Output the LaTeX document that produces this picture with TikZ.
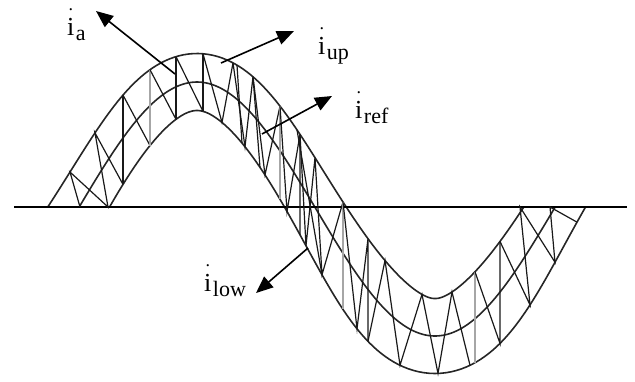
\documentclass[tikz,border=0pt]{standalone}
\usepackage{fontspec}
\setmainfont{Liberation Serif}
\usetikzlibrary{arrows.meta}

\newcommand\Amp{127}
\newcommand\Per{476}
\newcommand\Xo{78}
\newcommand\Yo{209}

\newcommand\iterU[1]{\pgfmathsetmacro\tqq{#1+dd(\tqq)*gg(\tqq)/ss(\tqq)}}
\newcommand\iterL[1]{\pgfmathsetmacro\tqq{#1-dd(\tqq)*gg(\tqq)/ss(\tqq)}}
\newcommand\onU[2]{%
  \pgfmathsetmacro\tqq{#1}%
  \iterU{#1}\iterU{#1}\iterU{#1}\iterU{#1}\iterU{#1}%
  \iterU{#1}\iterU{#1}\iterU{#1}\iterU{#1}\iterU{#1}%
  \pgfmathsetmacro\yqq{uy(\tqq)}%
  \coordinate (U#1) at (#1,\yqq);}
\newcommand\onL[2]{%
  \pgfmathsetmacro\tqq{#1}%
  \iterL{#1}\iterL{#1}\iterL{#1}\iterL{#1}\iterL{#1}%
  \iterL{#1}\iterL{#1}\iterL{#1}\iterL{#1}\iterL{#1}%
  \pgfmathsetmacro\yqq{ly(\tqq)}%
  \coordinate (L#1) at (#1,\yqq);}

\newcommand\di{\rlap{\hbox to 0.278em{\hss\raisebox{0.95em}{\fontsize{18}{18}\selectfont.}\hss}}i\kern1.5pt}
\newcommand\sub[1]{\raisebox{-5pt}{\fontsize{22}{26}\selectfont #1}}

\begin{document}
\begin{tikzpicture}[x=1pt,y=-1pt,
  declare function={
    ph(\x)=(\x-\Xo)/\Per*360;
    ff(\x)=\Amp*sin(ph(\x));
    gg(\x)=\Amp*2*pi/\Per*cos(ph(\x));
    ss(\x)=sqrt(1+gg(\x)*gg(\x));
    dd(\x)=26.5-4.5*sin(ph(\x))+6.5*sin(ph(\x))*sin(ph(\x));
    ux(\x)=\x-dd(\x)*gg(\x)/ss(\x);
    uy(\x)=\Yo-ff(\x)-dd(\x)/ss(\x);
    lx(\x)=\x+dd(\x)*gg(\x)/ss(\x);
    ly(\x)=\Yo-ff(\x)+dd(\x)/ss(\x);
  },
  curve/.style={line width=1.6pt, black!85},
  net/.style={line width=1.2pt, black!90},
  greynet/.style={line width=2.3pt, black!35},
  axisline/.style={line width=2pt},
  arr/.style={line width=1.6pt, -{Triangle[length=17pt,width=14pt]}},
  lab/.style={inner sep=0pt, anchor=base west, font=\fontsize{26}{30}\selectfont}]
\useasboundingbox (0,0) rectangle (635,381);

% band curves
\begin{scope}
\clip (0,0) -- (400,0) -- (400,207) -- (640,207) -- (640,400) -- (200,400) -- (200,207) -- (0,207) -- cycle;
\draw[curve] plot[variable=\x, domain=20:620, samples=200] ({ux(\x)},{uy(\x)});
\draw[curve] plot[variable=\x, domain=40:620, samples=200] ({\x},{\Yo-ff(\x)});
\draw[curve] plot[variable=\x, domain=40:640, samples=200] ({lx(\x)},{ly(\x)});
\end{scope}

% axis
\coordinate (ax0) at (14,207);
\coordinate (ax1) at (627,207);
\draw[axisline] (ax0) -- (ax1);

% vertices
\coordinate (A80) at (80,207);
\coordinate (A108) at (108,207);
\coordinate (A520) at (520,207);
\coordinate (A550) at (550,207);
\onU{70}{}\onU{95}{}\onU{123}{}\onU{150}{}\onU{176}{}\onU{203}{}
\onU{233}{}\onU{237}{}\onU{253}{}\onU{280}{}\onU{297}{}\onU{300}{}\onU{315}{}\onU{343}{}
\onU{368}{}\onU{385}{}\onU{422}{}\onU{452}{}\onU{475}{}\onU{500}{}
\onL{123}{}\onL{150}{}\onL{176}{}\onL{203}{}\onL{222}{}\onL{242}{}\onL{245}{}
\onL{260}{}\onL{265}{}\onL{280}{}\onL{287}{}\onL{300}{}\onL{306}{}
\onL{322}{}\onL{343}{}\onL{357}{}\onL{368}{}\onL{400}{}\onL{438}{}
\onL{470}{}\onL{475}{}\onL{500}{}\onL{530}{}\onL{555}{}\onL{577}{}

% switching net
\draw[net] (A80) -- (U70) -- (A108) -- (U95) -- (L123);
\draw[net] (U123) -- (L123);
\draw[net] (U123) -- (L150);
\draw[greynet] (U150) -- (L150);
\draw[net] (U150) -- (L176);
\draw[net] (U176) -- (L176);
\draw[net] (U176) -- (L203);
\draw[net] (U203) -- (L203);
\draw[net] (U203) -- (L222) -- (U233);
\draw[net] (U237) -- (L242);
\draw[net] (U233) -- (L245) -- (U253) -- (L260);
\draw[net] (U253) -- (L265) -- (U280);
\draw[greynet] (U280) -- (L280);
\draw[net] (U280) -- (L287) -- (U300) -- (L300);
\draw[net] (U297) -- (L322);
\draw[net] (U300) -- (L306) -- (U315) -- (L322) -- (U343);
\draw[greynet] (U343) -- (L343);
\draw[net] (U343) -- (L357) -- (U368) -- (L368);
\draw[net] (L368) -- (U385) -- (L400) -- (U422) -- (L438) -- (U452) -- (L470);
\draw[greynet] (U475) -- (L475);
\draw[net] (U475) -- (L500) -- (U500);
\draw[net] (U500) -- (L530) -- (A520) -- (L555) -- (A550) -- (L577);

% arrows
\coordinate (ta) at (175,74);  \coordinate (ha) at (96,11);
\coordinate (tu) at (221,63);  \coordinate (hu) at (294,31);
\coordinate (tr) at (262,134); \coordinate (hr) at (332,96);
\coordinate (tl) at (308,248); \coordinate (hl) at (256,293);
\draw[arr] (ta) -- (ha);
\draw[arr] (tu) -- (hu);
\draw[arr] (tr) -- (hr);
\draw[arr] (tl) -- (hl);

% labels
\node[lab] (la) at (67,35) {\di\sub{a}};
\node[lab] (lu) at (318,54) {\di\sub{up}};
\node[lab] (lr) at (355,118) {\di\sub{ref}};
\node[lab] (ll) at (204,291) {\di\sub{low}};
\end{tikzpicture}
\end{document}
